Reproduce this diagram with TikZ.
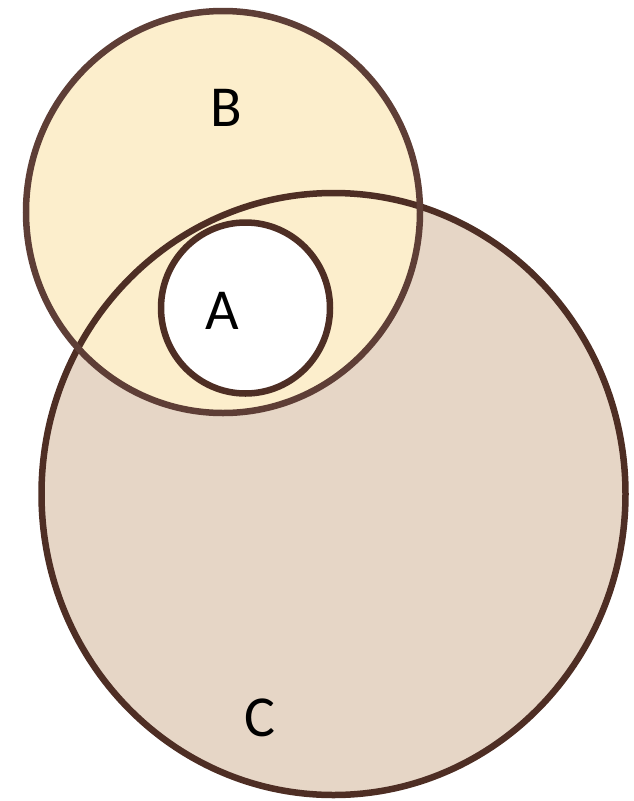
\documentclass[tikz,border=0pt]{standalone}
\usepackage{fontspec}
\setmainfont{Carlito}
\usepackage{tikz}
\definecolor{setB}{RGB}{252,238,204}
\definecolor{setC}{RGB}{230,214,198}
\definecolor{lineB}{RGB}{94,62,54}
\definecolor{lineC}{RGB}{78,46,36}
\tikzstyle{rim} = [line width=6.5pt]
\tikzstyle{lbl} = [font=\fontsize{58}{70}\selectfont, inner sep=0pt]

\begin{document}
\begin{tikzpicture}[x=1pt,y=-1pt]
\useasboundingbox (0,0) rectangle (634,801);

    \fill[setC] (333.5,494) ellipse [x radius=292, y radius=301];
    \fill[setB] (223,212) ellipse [x radius=197, y radius=201];
\draw[rim,lineC] (333.5,494) ellipse [x radius=292, y radius=301];
\draw[rim,lineB] (223,212) ellipse [x radius=197, y radius=201];
    \filldraw[rim,draw=lineC,fill=white] (245.5,308) ellipse [x radius=84.5, y radius=85.5];

\node[lbl] (b) at (226,108) {B};
\node[lbl] (a) at (222.5,311) {A};
\node[lbl] (c) at (260,718) {C};
\end{tikzpicture}
\end{document}
